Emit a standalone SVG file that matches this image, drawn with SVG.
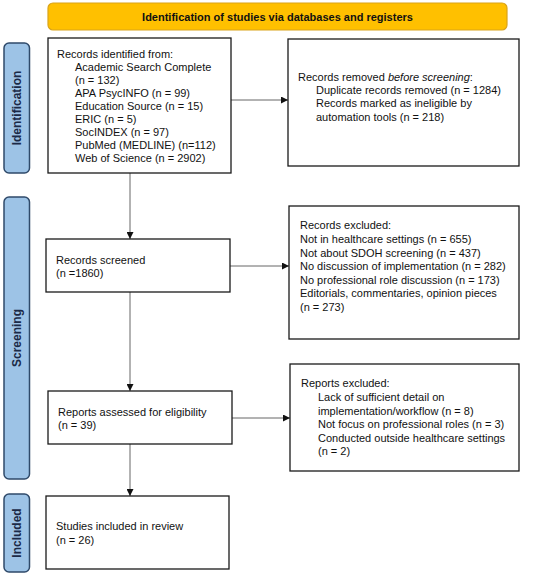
<svg xmlns="http://www.w3.org/2000/svg" width="550" height="577" viewBox="0 0 550 577">
<defs>
<style>
.box{fill:#fff;stroke:#1a1a1a;stroke-width:1.3}
.lab{fill:#9dc3e6;stroke:#2f4a6a;stroke-width:1.5}
.ban{fill:#ffc000;stroke:#d9a31a;stroke-width:1.2}
.t{font-family:"Liberation Sans",Arial,sans-serif;font-size:11px;fill:#111}
.lt{font-family:"Liberation Sans",Arial,sans-serif;font-size:12px;font-weight:bold;fill:#1b2a47}
.bt{font-family:"Liberation Sans",Arial,sans-serif;font-size:11px;font-weight:bold;fill:#111}
.c{stroke:#666;stroke-width:1;fill:none}
</style>
<marker id="ah" viewBox="0 0 10 10" refX="10" refY="5" markerWidth="7" markerHeight="7" markerUnits="userSpaceOnUse" orient="auto">
<path d="M0,0 L10,5 L0,10 z" fill="#111"/>
</marker>
</defs>
<rect width="550" height="577" fill="#fff"/>

<g id="banner">
<rect class="ban" x="48" y="3" width="459" height="27" rx="5"/>
<text class="bt" x="277.5" y="20.5" text-anchor="middle">Identification of studies via databases and registers</text>
</g>

<g id="label-identification">
<rect class="lab" x="4" y="43" width="25.5" height="130" rx="5"/>
<text class="lt" transform="translate(21,108) rotate(-90)" text-anchor="middle">Identification</text>
</g>
<g id="label-screening">
<rect class="lab" x="4" y="197" width="25.5" height="282" rx="5"/>
<text class="lt" transform="translate(21,338) rotate(-90)" text-anchor="middle">Screening</text>
</g>
<g id="label-included">
<rect class="lab" x="4" y="494" width="25.5" height="78" rx="5"/>
<text class="lt" transform="translate(21,533) rotate(-90)" text-anchor="middle">Included</text>
</g>

<g id="connectors">
<line class="c" x1="130" y1="173" x2="130" y2="239" marker-end="url(#ah)"/>
<line class="c" x1="130" y1="292" x2="130" y2="391" marker-end="url(#ah)"/>
<line class="c" x1="130" y1="444" x2="130" y2="496" marker-end="url(#ah)"/>
<line class="c" x1="231" y1="100" x2="288" y2="100" marker-end="url(#ah)"/>
<line class="c" x1="230" y1="266" x2="289" y2="266" marker-end="url(#ah)"/>
<line class="c" x1="232" y1="418" x2="290" y2="418" marker-end="url(#ah)"/>
</g>

<g id="records-identified">
<rect class="box" x="48" y="38" width="183" height="135"/>
<text class="t" x="57" y="58">Records identified from:</text>
<text class="t" x="75" y="71">Academic Search Complete</text>
<text class="t" x="75" y="84">(n = 132)</text>
<text class="t" x="75" y="97">APA PsycINFO (n = 99)</text>
<text class="t" x="75" y="110">Education Source (n = 15)</text>
<text class="t" x="75" y="123">ERIC (n = 5)</text>
<text class="t" x="75" y="136">SocINDEX (n = 97)</text>
<text class="t" x="75" y="149">PubMed (MEDLINE) (n=112)</text>
<text class="t" x="75" y="162">Web of Science (n = 2902)</text>
</g>

<g id="records-removed">
<rect class="box" x="288" y="39" width="231" height="127"/>
<text class="t" x="298" y="80.5">Records removed <tspan font-style="italic">before screening</tspan>:</text>
<text class="t" x="316" y="94">Duplicate records removed (n = 1284)</text>
<text class="t" x="316" y="107">Records marked as ineligible by</text>
<text class="t" x="316" y="120.5">automation tools (n = 218)</text>
</g>

<g id="records-screened">
<rect class="box" x="46" y="239" width="184" height="53"/>
<text class="t" x="56" y="264">Records screened</text>
<text class="t" x="56" y="277">(n =1860)</text>
</g>

<g id="records-excluded">
<rect class="box" x="289" y="206" width="230" height="133"/>
<text class="t" x="300" y="229">Records excluded:</text>
<text class="t" x="300" y="243">Not in healthcare settings (n = 655)</text>
<text class="t" x="300" y="256.5">Not about SDOH screening (n = 437)</text>
<text class="t" x="300" y="270">No discussion of implementation (n = 282)</text>
<text class="t" x="300" y="283.5">No professional role discussion (n = 173)</text>
<text class="t" x="300" y="297">Editorials, commentaries, opinion pieces</text>
<text class="t" x="300" y="310.5">(n = 273)</text>
</g>

<g id="reports-assessed">
<rect class="box" x="48" y="391" width="184" height="53"/>
<text class="t" x="58" y="415.5">Reports assessed for eligibility</text>
<text class="t" x="58" y="429">(n = 39)</text>
</g>

<g id="reports-excluded">
<rect class="box" x="290" y="364" width="229" height="107"/>
<text class="t" x="301" y="387">Reports excluded:</text>
<text class="t" x="318" y="401">Lack of sufficient detail on</text>
<text class="t" x="318" y="414.5">implementation/workflow (n = 8)</text>
<text class="t" x="318" y="428">Not focus on professional roles (n = 3)</text>
<text class="t" x="318" y="442">Conducted outside healthcare settings</text>
<text class="t" x="318" y="455">(n = 2)</text>
</g>

<g id="studies-included">
<rect class="box" x="46" y="496" width="183" height="73"/>
<text class="t" x="56" y="530">Studies included in review</text>
<text class="t" x="56" y="544">(n = 26)</text>
</g>
</svg>
